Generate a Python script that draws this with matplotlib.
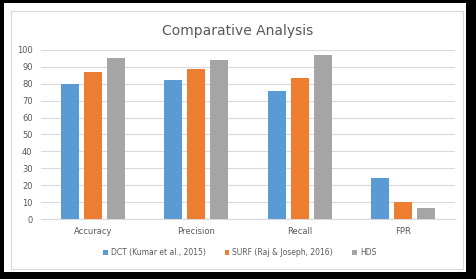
import numpy as np
import matplotlib.pyplot as plt
from matplotlib.patches import Rectangle

# Data
categories = ['Accuracy', 'Precision', 'Recall', 'FPR']
dct = [80, 82, 76, 24]
surf = [87, 89, 83.5, 10]
hds = [95.5, 94, 97, 6.5]
series_names = ['DCT (Kumar et al., 2015)', 'SURF (Raj & Joseph, 2016)', 'HDS']
colors = ['#5B9BD5', '#ED7D31', '#A5A5A5']

fig = plt.figure(figsize=(4.76, 2.79), dpi=100, facecolor='black')

# white card inside the black frame, with a light inner border
fig.patches.append(Rectangle((0.0084, 0.025), 0.9706, 0.964, transform=fig.transFigure,
                             facecolor='white', edgecolor='none', zorder=-2))
fig.patches.append(Rectangle((0.023, 0.036), 0.950, 0.925, transform=fig.transFigure,
                             fill=False, edgecolor='#D9D9D9', linewidth=0.8, zorder=-1))

ax = fig.add_axes([0.086, 0.215, 0.87, 0.606])
ax.set_zorder(2)
ax.set_facecolor('white')

x = np.arange(len(categories))
w = 0.175
step = 0.222
for i, (vals, name, c) in enumerate(zip([dct, surf, hds], series_names, colors)):
    ax.bar(x + (i - 1) * step, vals, width=w, color=c, label=name, zorder=3)

ax.set_xlim(-0.5, len(categories) - 0.5)
ax.set_ylim(0, 100)
ax.set_yticks(range(0, 101, 10))
ax.set_xticks(x)
ax.set_xticklabels(categories)
ax.tick_params(axis='both', length=0, labelsize=6, colors='#595959', pad=6)
ax.grid(axis='y', color='#D9D9D9', linewidth=0.8, zorder=0)
for s in ['top', 'right', 'left']:
    ax.spines[s].set_visible(False)
ax.spines['bottom'].set_color('#D9D9D9')

fig.text(0.5, 0.89, 'Comparative Analysis', ha='center', va='center',
         fontsize=10, color='#595959', zorder=3)

ax.legend(loc='upper center', bbox_to_anchor=(0.48, -0.13), ncol=3, frameon=False,
          fontsize=5.5, handlelength=0.6, handleheight=0.6, handletextpad=0.4,
          columnspacing=2.5, labelcolor='#595959')

fig.savefig('out.png', dpi=100, facecolor='black')
